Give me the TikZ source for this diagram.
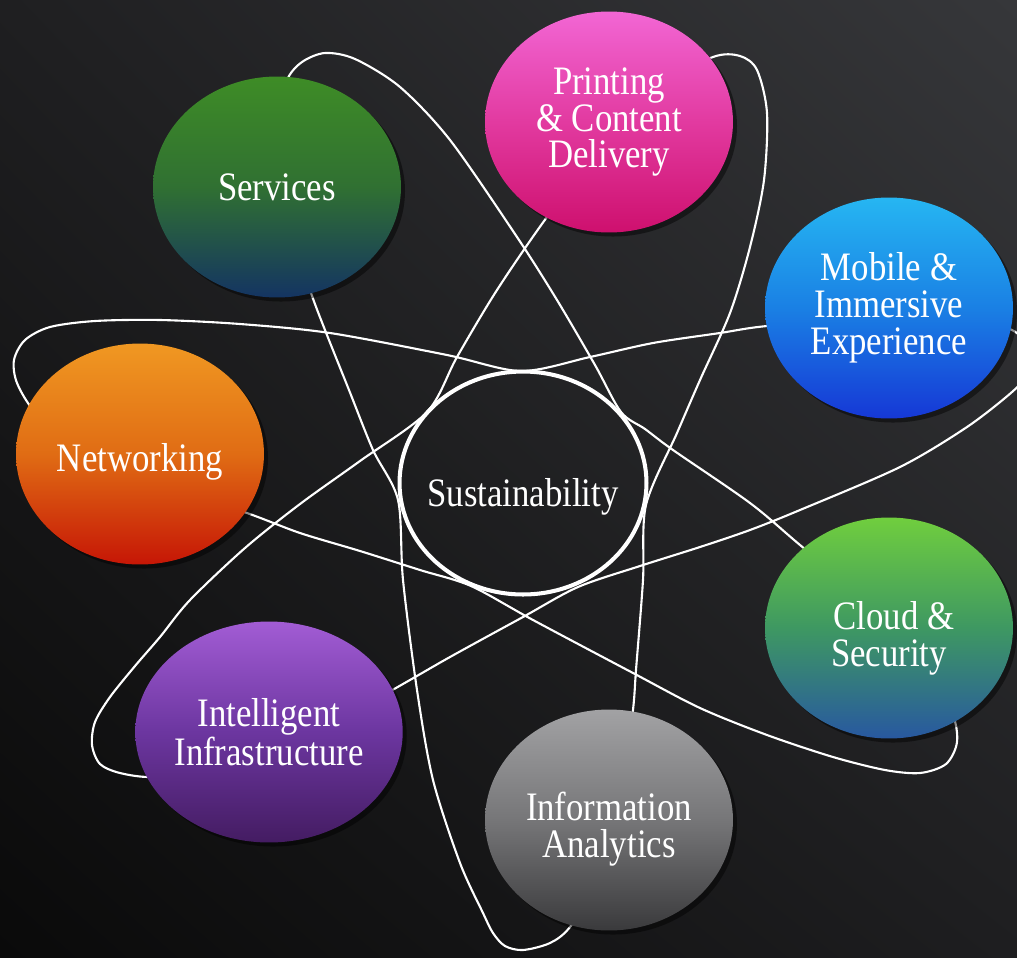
\documentclass[tikz,border=0pt]{standalone}
\usepackage{fontspec}
\setmainfont{Liberation Serif}[FakeStretch=0.86]
\usetikzlibrary{shapes.geometric,shadows,shadings}

\definecolor{bgTL}{RGB}{31,31,33}
\definecolor{bgTR}{RGB}{54,55,58}
\definecolor{bgBL}{RGB}{10,10,10}
\definecolor{bgBR}{RGB}{30,30,32}
\definecolor{svcTop}{RGB}{62,140,38}
\definecolor{svcMid}{RGB}{48,112,50}
\definecolor{svcBot}{RGB}{20,52,98}
\definecolor{prnTop}{RGB}{242,102,212}
\definecolor{prnMid}{RGB}{226,58,160}
\definecolor{prnBot}{RGB}{206,16,110}
\definecolor{mobTop}{RGB}{38,182,242}
\definecolor{mobMid}{RGB}{26,128,228}
\definecolor{mobBot}{RGB}{22,56,214}
\definecolor{cldTop}{RGB}{112,206,62}
\definecolor{cldMid}{RGB}{62,152,98}
\definecolor{cldBot}{RGB}{40,88,160}
\definecolor{anaTop}{RGB}{162,162,164}
\definecolor{anaMid}{RGB}{118,118,120}
\definecolor{anaBot}{RGB}{58,58,60}
\definecolor{infTop}{RGB}{162,92,212}
\definecolor{infMid}{RGB}{108,54,160}
\definecolor{infBot}{RGB}{68,28,98}
\definecolor{netTop}{RGB}{240,152,34}
\definecolor{netMid}{RGB}{224,108,20}
\definecolor{netBot}{RGB}{198,22,6}

\begin{document}
\begin{tikzpicture}[x=0.02cm, y=-0.02cm,
  ball/.style={ellipse, minimum width=4.96cm, minimum height=4.42cm, inner sep=0pt,
    align=center, text=white, font=\fontsize{23}{21}\selectfont,
    drop shadow={fill=black, opacity=0.45}},
  lowered/.style={text height=#1},
  orbit/.style={white, line width=1.2pt}]
\useasboundingbox (0,0) rectangle (1017,957);
\clip (0,0) rectangle (1017,957);
\shade[upper left=bgTL, upper right=bgTR, lower left=bgBL, lower right=bgBR] (0,0) rectangle (1017,957);

\draw[orbit] plot[smooth cycle, tension=0.5] coordinates {
  (311,293) (292,235) (281,170) (279,118) (287,80) (302,62) (325,53) (355,59) (400,87)
  (450,140) (517,237) (557,300) (595,365) (621,412) (645,429) (673,450) (750,503)
  (800,545) (870,603) (925,662) (952,712) (957,742) (946,764) (920,773) (885,770)
  (833,757) (767,735) (700,708) (633,673) (533,620) (471,586) (420,570) (360,551)
  (300,533) (247,513) (150,480) (75,446) (35,412) (17,383) (14,360) (25,340)
  (50,327) (95,321) (160,320) (240,324) (330,333) (447,355) (521,371) (590,357)
  (653,343) (720,333) (767,326) (880,317) (970,321) (1012,330) (1030,350) (1026,375)
  (1012,392) (967,427) (900,467) (800,510) (750,530) (700,547) (640,566) (578,587)
  (523,617) (450,657) (387,693) (300,740) (210,770) (153,777) (120,773) (100,764)
  (92,745) (95,722) (110,697) (135,666) (160,637) (190,600) (245,548) (300,504)
  (360,461) (427,412) (457,357) (497,290) (547,217) (600,150) (660,86) (713,57)
  (740,56) (757,70) (767,113) (764,180) (750,247) (730,313) (700,380) (677,433)
  (646,505) (643,580) (636,670) (633,710) (622,800) (600,880) (570,927) (550,943)
  (523,950) (505,946) (493,933) (483,913) (460,863) (433,780) (417,690) (403,580)
  (398,500) (373,450) (349,390) (325,330)};

\node[ellipse, draw=white, line width=2.3pt, minimum width=4.94cm, minimum height=4.46cm] (hub) at (523,483) {};
\node[text=white, font=\fontsize{23}{21}\selectfont] (hubtext) at (523,497) {Sustainability};

\node[ball, top color=svcTop, bottom color=svcBot, middle color=svcMid] (services) at (277,187) {Services};
\node[ball, top color=prnTop, bottom color=prnBot, middle color=prnMid] (printing) at (609,122) {Printing\\\& Content\\Delivery};
\node[ball, top color=mobTop, bottom color=mobBot, middle color=mobMid] (mobile) at (889,308) {Mobile \&\\Immersive\\Experience};
\node[ball, lowered=49pt, top color=cldTop, bottom color=cldBot, middle color=cldMid] (cloud) at (889,628) {\hspace*{0.2cm}Cloud \&\\Security};
\node[ball, lowered=48pt, top color=anaTop, bottom color=anaBot, middle color=anaMid] (analytics) at (609,820) {Information\\Analytics};
\node[ball, top color=infTop, bottom color=infBot, middle color=infMid] (infra) at (269,732) {Intelligent\\Infrastructure};
\node[ball, lowered=25pt, top color=netTop, bottom color=netBot, middle color=netMid] (networking) at (140,454) {Networking};
\end{tikzpicture}
\end{document}
